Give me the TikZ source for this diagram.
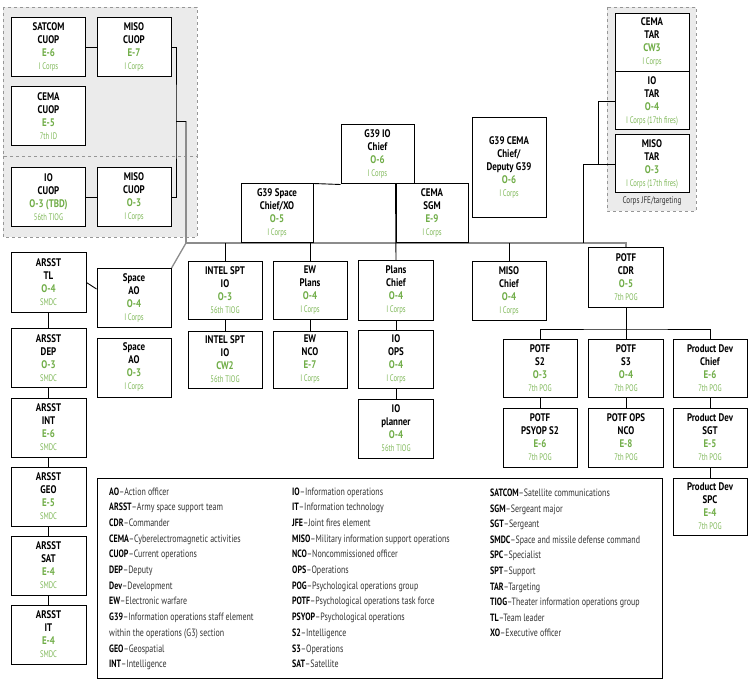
\documentclass[tikz,border=0pt]{standalone}
\usepackage{fontspec}
\setmainfont{PT Sans}[FakeStretch=0.81]
\newfontfamily\legf{PT Sans}[FakeStretch=0.75]
\newfontfamily\unitf{PT Sans}[FakeStretch=0.70]
\definecolor{grade}{RGB}{112,173,71}
\definecolor{unitc}{RGB}{128,185,90}
\definecolor{grpfill}{RGB}{235,235,235}
\definecolor{grpline}{RGB}{150,150,150}
\definecolor{busc}{RGB}{140,140,140}
\definecolor{legtxt}{RGB}{50,50,50}
\newcommand{\gr}[1]{{\color{grade}#1}}
\newcommand{\un}[1]{{\unitf\mdseries\fontsize{9.5}{13}\selectfont\color{unitc}#1}}
\newcommand{\lgd}[2]{{\bfseries\color{black}#1}{\color{legtxt}–#2}}
\begin{document}
\begin{tikzpicture}[x=1pt,y=-1pt,
 box/.style={draw=black,line width=1pt,fill=white,minimum width=74pt,minimum height=59pt,inner sep=0pt,align=center,font=\bfseries\fontsize{11}{13}\selectfont},
 conn/.style={draw=black,line width=0.9pt},
 bus/.style={draw=busc,line width=1.3pt},
 grp/.style={draw=grpline,dashed,fill=grpfill,line width=0.8pt},
 leg/.style={anchor=base west,inner sep=0pt,font=\legf\fontsize{10.6}{12}\selectfont}]
\useasboundingbox (0,0) rectangle (756,682);
% groups
\draw[grp] (3,7) rectangle (197,156);
\draw[grp] (3,156) rectangle (197,237);
\draw[grp] (607,7) rectangle (696,211);
\node[inner sep=0pt,font=\legf\fontsize{9.5}{11}\selectfont,text=legtxt] (jfe) at (652,201) {Corps JFE/targeting};
% coordinates
\coordinate (busL) at (186,243);
\coordinate (busR) at (626,243);
\coordinate (brk) at (176,121);
\coordinate (brk2) at (186,121);
\coordinate (tarjoin) at (583,164);
\coordinate (potfbus) at (626,329);
% boxes top-left
\node[box] (satcom) at (48.5,47.5) {SATCOM\\CUOP\\\gr{E-6}\\\un{I Corps}};
\node[box] (misocuopA) at (134,47.5) {MISO\\CUOP\\\gr{E-7}\\\un{I Corps}};
\node[box] (cemacuop) at (48.5,116.5) {CEMA\\CUOP\\\gr{E-5}\\\un{7th ID}};
\node[box] (iocuop) at (48.5,197.5) {IO\\CUOP\\\gr{O-3 (TBD)}\\\un{56th TIOG}};
\node[box] (misocuopB) at (134,197.5) {MISO\\CUOP\\\gr{O-3}\\\un{I Corps}};
% connectors (drawn before central boxes)
\draw[bus] (brk2) -- (busL) -- (busR) -- (626,248);
\draw[bus] (busL) -- (171,269);
\draw[conn] (satcom) -- (misocuopA);
\draw[conn] (iocuop) -- (misocuopB);
\draw[conn] (misocuopA.east) -| (brk) |- (misocuopB.east);
\draw[conn] (brk) -- (brk2);
% G39 core
\node[box,minimum width=73pt] (g39io) at (377.5,154.5) {G39 IO\\Chief\\\gr{O-6}\\\un{I Corps}};
\node[box,minimum width=72pt] (g39space) at (277,213.5) {G39 Space\\Chief/XO\\\gr{O-5}\\\un{I Corps}};
\node[box,minimum width=72pt] (cemasgm) at (432,213.5) {CEMA\\SGM\\\gr{E-9}\\\un{I Corps}};
\draw[conn] (g39space.north east) -- (g39io.south west);
\node[box,minimum height=100pt] (g39cema) at (509,168) {G39 CEMA\\Chief/\\Deputy G39\\\gr{O-6}\\\un{I Corps}};
% TAR
\node[box,minimum height=58pt] (cematar) at (652,42.5) {CEMA\\TAR\\\gr{CW3}\\\un{I Corps}};
\node[box,minimum height=58pt] (iotar) at (652,101) {IO\\TAR\\\gr{O-4}\\\un{I Corps (17th fires)}};
\node[box,minimum height=58pt] (misotar) at (652,164) {MISO\\TAR\\\gr{O-3}\\\un{I Corps (17th fires)}};
\draw[conn] (iotar.west) -- ++(-16,0) |- (misotar.west);
\draw[conn] (misotar.west) -- (tarjoin) -- (tarjoin |- busR);
% ARSST column
\node[box,minimum width=75pt] (arsstTL) at (48.5,282.5) {ARSST\\TL\\\gr{O-4}\\\un{SMDC}};
\node[box,minimum width=75pt] (arsstDEP) at (48.5,358) {ARSST\\DEP\\\gr{O-3}\\\un{SMDC}};
\node[box,minimum width=75pt] (arsstINT) at (48.5,427.5) {ARSST\\INT\\\gr{E-6}\\\un{SMDC}};
\node[box,minimum width=75pt] (arsstGEO) at (48.5,496.5) {ARSST\\GEO\\\gr{E-5}\\\un{SMDC}};
\node[box,minimum width=75pt] (arsstSAT) at (48.5,565.5) {ARSST\\SAT\\\gr{E-4}\\\un{SMDC}};
\node[box,minimum width=75pt] (arsstIT) at (48.5,634.5) {ARSST\\IT\\\gr{E-4}\\\un{SMDC}};
\draw[conn] (arsstTL) -- (arsstDEP) -- (arsstINT) -- (arsstGEO) -- (arsstSAT) -- (arsstIT);
% Space AO
\node[box] (spaceAOa) at (134,298) {Space\\AO\\\gr{O-4}\\\un{I Corps}};
\node[box] (spaceAOb) at (134,367.5) {Space\\AO\\\gr{O-3}\\\un{I Corps}};
\draw[conn] (arsstTL.east) -- ([yshift=9pt]spaceAOa.west);
% row 2
\node[box,minimum height=57pt] (intelA) at (225,290.5) {INTEL SPT\\IO\\\gr{O-3}\\\un{56th TIOG}};
\node[box,minimum height=57pt] (intelB) at (225,359.5) {INTEL SPT\\IO\\\gr{CW2}\\\un{56th TIOG}};
\node[box,minimum height=57pt] (ewplans) at (310,290.5) {EW\\Plans\\\gr{O-4}\\\un{I Corps}};
\node[box,minimum height=57pt] (ewnco) at (310,359.5) {EW\\NCO\\\gr{E-7}\\\un{I Corps}};
\node[box,minimum width=75pt] (planschief) at (396,290.5) {Plans\\Chief\\\gr{O-4}\\\un{I Corps}};
\node[box,minimum width=75pt,minimum height=58pt] (ioops) at (396,359) {IO\\OPS\\\gr{O-4}\\\un{I Corps}};
\node[box,minimum width=75pt] (ioplanner) at (396,428.5) {IO\\planner\\\gr{O-4}\\\un{56th TIOG}};
\node[box,minimum height=58pt] (misochief) at (509,291) {MISO\\Chief\\\gr{O-4}\\\un{I Corps}};
\draw[conn] (intelA.north) -- (intelA.north |- busL);
\draw[conn] (ewplans.north) -- (ewplans.north |- busL);
\draw[conn] (misochief.north) -- (misochief.north |- busL);
\draw[conn] (cemasgm.north west) -- (planschief.north);
\draw[conn] (intelA) -- (intelB);
\draw[conn] (ewplans) -- (ewnco);
\draw[conn] (planschief) -- (ioops) -- (ioplanner);
% POTF
\node[box,minimum width=75pt] (potfcdr) at (626,277.5) {POTF\\CDR\\\gr{O-5}\\\un{7th POG}};
\node[box,minimum height=58pt] (potfsA) at (540,368) {POTF\\S2\\\gr{O-3}\\\un{7th POG}};
\node[box,minimum width=75pt,minimum height=58pt] (potfsB) at (626,368) {POTF\\S3\\\gr{O-4}\\\un{7th POG}};
\node[box,minimum height=58pt] (pdchief) at (710,368) {Product Dev\\Chief\\\gr{E-6}\\\un{7th POG}};
\node[box] (psyops) at (540,437.5) {POTF\\PSYOP S2\\\gr{E-6}\\\un{7th POG}};
\node[box,minimum width=75pt] (opsnco) at (626,437.5) {POTF OPS\\NCO\\\gr{E-8}\\\un{7th POG}};
\node[box] (pdsgt) at (710,437.5) {Product Dev\\SGT\\\gr{E-5}\\\un{7th POG}};
\node[box,minimum height=57pt] (pdspc) at (710,506.5) {Product Dev\\SPC\\\gr{E-4}\\\un{7th POG}};
\draw[conn] (potfcdr.south) -- (potfbus);
\draw[conn] (potfsA.north) |- (potfbus) -| (pdchief.north);
\draw[conn] (potfbus) -- (potfsB.north);
\draw[conn] (potfsA) -- (psyops);
\draw[conn] (potfsB) -- (opsnco);
\draw[conn] (pdchief) -- (pdsgt) -- (pdspc);
% legend
\draw[line width=1pt] (97,478) rectangle (662,678);
\foreach \ab/\tx [count=\i from 0] in {AO/Action officer,ARSST/Army space support team,CDR/Commander,CEMA/Cyberelectromagnetic activities,CUOP/Current operations,DEP/Deputy,Dev/Development,EW/Electronic warfare,G39/Information operations staff element}
  \node[leg] (la\i) at (109,495+15.7*\i) {\lgd{\ab}{\tx}};
\node[leg,text=legtxt] (la9) at (109,495+15.7*9) {within the operations (G3) section};
\node[leg] (la10) at (109,495+15.7*10) {\lgd{GEO}{Geospatial}};
\node[leg] (la11) at (109,495+15.7*11) {\lgd{INT}{Intelligence}};
\foreach \ab/\tx [count=\i from 0] in {IO/Information operations,IT/Information technology,JFE/Joint fires element,MISO/Military information support operations,NCO/Noncommissioned officer,OPS/Operations,POG/Psychological operations group,POTF/Psychological operations task force,PSYOP/Psychological operations,S2/Intelligence,S3/Operations,SAT/Satellite}
  \node[leg] (lb\i) at (292,495+15.7*\i) {\lgd{\ab}{\tx}};
\foreach \ab/\tx [count=\i from 0] in {SATCOM/Satellite communications,SGM/Sergeant major,SGT/Sergeant,SMDC/Space and missile defense command,SPC/Specialist,SPT/Support,TAR/Targeting,TIOG/Theater information operations group,TL/Team leader,XO/Executive officer}
  \node[leg] (lc\i) at (490,496.5+15.6*\i) {\lgd{\ab}{\tx}};
\end{tikzpicture}
\end{document}
